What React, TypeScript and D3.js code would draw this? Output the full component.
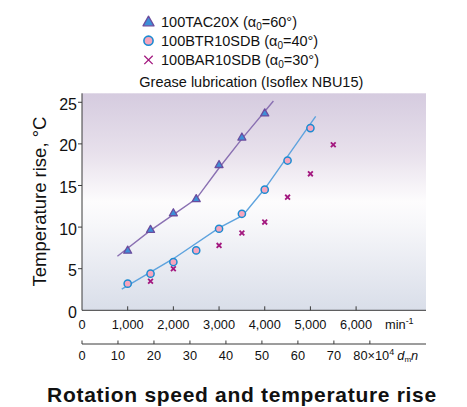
import * as d3 from "d3";

const speedTicks = [0, 1000, 2000, 3000, 4000, 5000, 6000];
const dmnTicks = [0, 10, 20, 30, 40, 50, 60, 70, 80];
const tempTicks = [0, 5, 10, 15, 20, 25];

// measured points, speed in min-1, temperature rise in °C
const tacSpeed = [1000, 1500, 2000, 2500, 3000, 3500, 4000];
const tacTemp = [7.2, 9.7, 11.7, 13.4, 17.5, 20.8, 23.7];
const btrSpeed = [1000, 1500, 2000, 2500, 3000, 3500, 4000, 4500, 5000];
const btrTemp = [3.2, 4.4, 5.8, 7.2, 9.8, 11.6, 14.5, 18.0, 21.9];
const barSpeed = [1500, 2000, 3000, 3500, 4000, 4500, 5000, 5500];
const barTemp = [3.5, 5.0, 7.8, 9.3, 10.6, 13.6, 16.4, 19.9];

// hand-drawn trend lines
const tacFitSpeed = [775, 1500, 2000, 2500, 3000, 3500, 4190];
const tacFitTemp = [6.5, 9.6, 11.5, 13.4, 17.1, 20.6, 25.15];
const btrFitSpeed = [870, 2000, 3000, 3520, 4000, 5115];
const btrFitTemp = [2.55, 6.2, 9.9, 11.4, 14.6, 23.3];

const legendItems = [
  { name: "100TAC20X", angle: "60°" },
  { name: "100BTR10SDB", angle: "40°" },
  { name: "100BAR10SDB", angle: "30°" },
];

const width = 467;
const height = 407;
const plot = { left: 82, right: 426, top: 93.3, bottom: 310.3 };
const font = "'Liberation Sans', Arial, Helvetica, sans-serif";
const axisColor = "#3a3a3a";

const triColor = { fill: "#3d8fd8", stroke: "#6b4d9e", line: "#8a70b2" };
const circColor = { fill: "#f6a5bd", stroke: "#1b8bd2", line: "#5ea3de" };
const crossColor = "#a3187f";

function Triangle({ cx, cy, size }: { cx: number; cy: number; size: number }) {
  const h = size * 0.88;
  const d = `M${cx},${cy - h * 0.6}L${cx + size / 2},${cy + h * 0.4}L${cx - size / 2},${cy + h * 0.4}Z`;
  return <path d={d} fill={triColor.fill} stroke={triColor.stroke} strokeWidth={1.3} strokeLinejoin="round" />;
}

function Cross({ cx, cy, half, sw }: { cx: number; cy: number; half: number; sw: number }) {
  return (
    <path
      d={`M${cx - half},${cy - half}L${cx + half},${cy + half}M${cx - half},${cy + half}L${cx + half},${cy - half}`}
      stroke={crossColor}
      strokeWidth={sw}
    />
  );
}

export default function App() {
  const x = d3.scaleLinear().domain([0, 7530]).range([plot.left, plot.right]);
  const xDmn = d3.scaleLinear().domain([0, 95.6]).range([plot.left, plot.right]);
  const y = d3.scaleLinear().domain([0, 26.08]).range([plot.bottom, plot.top]);
  const fmt = d3.format(",");

  const line = d3
    .line<[number, number]>()
    .x((d) => x(d[0]))
    .y((d) => y(d[1]));

  const tacLine = line(tacFitSpeed.map((s, i) => [s, tacFitTemp[i]] as [number, number])) ?? "";
  const btrLine = line(btrFitSpeed.map((s, i) => [s, btrFitTemp[i]] as [number, number])) ?? "";

  const dmnAxisY = 344;

  return (
    <svg
      width={width}
      height={height}
      viewBox={`0 0 ${width} ${height}`}
      style={{ position: "absolute", left: 0, top: 0, background: "#fff" }}
      fontFamily={font}
    >
      <defs>
        <linearGradient id="plotBg" x1="0" y1="0" x2="0" y2="1">
          <stop offset="0" stopColor="#d5cbdf" />
          <stop offset="0.28" stopColor="#e8e1ec" />
          <stop offset="0.5" stopColor="#fdfcfd" />
          <stop offset="0.6" stopColor="#f7f7fa" />
          <stop offset="1" stopColor="#d9dee9" />
        </linearGradient>
      </defs>

      {/* legend */}
      {legendItems.map((item, i) => {
        const cy = 21.5 + i * 19.2;
        return (
          <g key={item.name}>
            {i === 0 && <Triangle cx={148.5} cy={cy + 0.5} size={11} />}
            {i === 1 && <circle cx={148.5} cy={cy} r={4.6} fill={circColor.fill} stroke={circColor.stroke} strokeWidth={1.6} />}
            {i === 2 && <Cross cx={148.5} cy={cy} half={4.2} sw={1.3} />}
            <text x={161} y={cy + 5} fontSize={14.5} fill="#111">
              {item.name} (α<tspan fontSize={10} dy={3}>0</tspan>
              <tspan dy={-3}>={item.angle})</tspan>
            </text>
          </g>
        );
      })}
      <text x={139.3} y={86.5} fontSize={14.5} fill="#111">
        Grease lubrication (Isoflex NBU15)
      </text>

      {/* plot background */}
      <rect x={plot.left} y={plot.top} width={plot.right - plot.left} height={plot.bottom - plot.top} fill="url(#plotBg)" />

      {/* y axis */}
      <line x1={plot.left} x2={plot.left} y1={plot.top} y2={plot.bottom} stroke={axisColor} />
      {tempTicks.map((t) => (
        <g key={`y-${t}`}>
          {t > 0 && <line x1={plot.left - 4} x2={plot.left} y1={y(t)} y2={y(t)} stroke={axisColor} />}
          <text x={77} y={y(t) + 7.5} textAnchor="end" fontSize={16} fill="#111">
            {t}
          </text>
        </g>
      ))}
      <text
        transform={`translate(45.5, ${201.5}) rotate(-90)`}
        textAnchor="middle"
        fontSize={18.5}
        fill="#111"
      >
        Temperature rise, °C
      </text>

      {/* speed axis */}
      <line x1={plot.left} x2={plot.right} y1={plot.bottom} y2={plot.bottom} stroke={axisColor} />
      {speedTicks.map((t) => (
        <g key={`x-${t}`}>
          {t > 0 && <line x1={x(t)} x2={x(t)} y1={plot.bottom} y2={plot.bottom - 4} stroke={axisColor} />}
          <text x={x(t)} y={328.5} textAnchor="middle" fontSize={12.8} fill="#111">
            {fmt(t)}
          </text>
        </g>
      ))}
      <text x={385} y={328.5} fontSize={12.8} fill="#111">
        min<tspan fontSize={9} dy={-5}>-1</tspan>
      </text>

      {/* dmn axis */}
      <line x1={plot.left} x2={plot.right} y1={dmnAxisY} y2={dmnAxisY} stroke={axisColor} />
      {dmnTicks.map((t) => (
        <g key={`d-${t}`}>
          <line x1={xDmn(t)} x2={xDmn(t)} y1={dmnAxisY} y2={dmnAxisY - 3.5} stroke={axisColor} />
          {t < 80 && (
            <text x={xDmn(t)} y={360} textAnchor="middle" fontSize={12.8} fill="#111">
              {t}
            </text>
          )}
        </g>
      ))}
      <text x={353.3} y={360} fontSize={12.8} fill="#111">
        80×10<tspan fontSize={9} dy={-5}>4</tspan>
        <tspan dy={5} dx={3} fontStyle="italic">d</tspan>
        <tspan fontSize={8} dy={2}>m</tspan>
        <tspan dy={-2} fontStyle="italic">n</tspan>
      </text>

      {/* trend lines */}
      <path d={tacLine} fill="none" stroke={triColor.line} strokeWidth={1.4} />
      <path d={btrLine} fill="none" stroke={circColor.line} strokeWidth={1.4} />

      {/* markers */}
      {barSpeed.map((s, i) => (
        <Cross key={`bar-${s}`} cx={x(s)} cy={y(barTemp[i])} half={2.4} sw={1.8} />
      ))}
      {btrSpeed.map((s, i) => (
        <circle key={`btr-${s}`} cx={x(s)} cy={y(btrTemp[i])} r={3.6} fill={circColor.fill} stroke={circColor.stroke} strokeWidth={1.5} />
      ))}
      {tacSpeed.map((s, i) => (
        <Triangle key={`tac-${s}`} cx={x(s)} cy={y(tacTemp[i])} size={8} />
      ))}

      <text x={242} y={401.5} textAnchor="middle" fontSize={21} letterSpacing={0.7} fontWeight="bold" fill="#111">
        Rotation speed and temperature rise
      </text>
    </svg>
  );
}
